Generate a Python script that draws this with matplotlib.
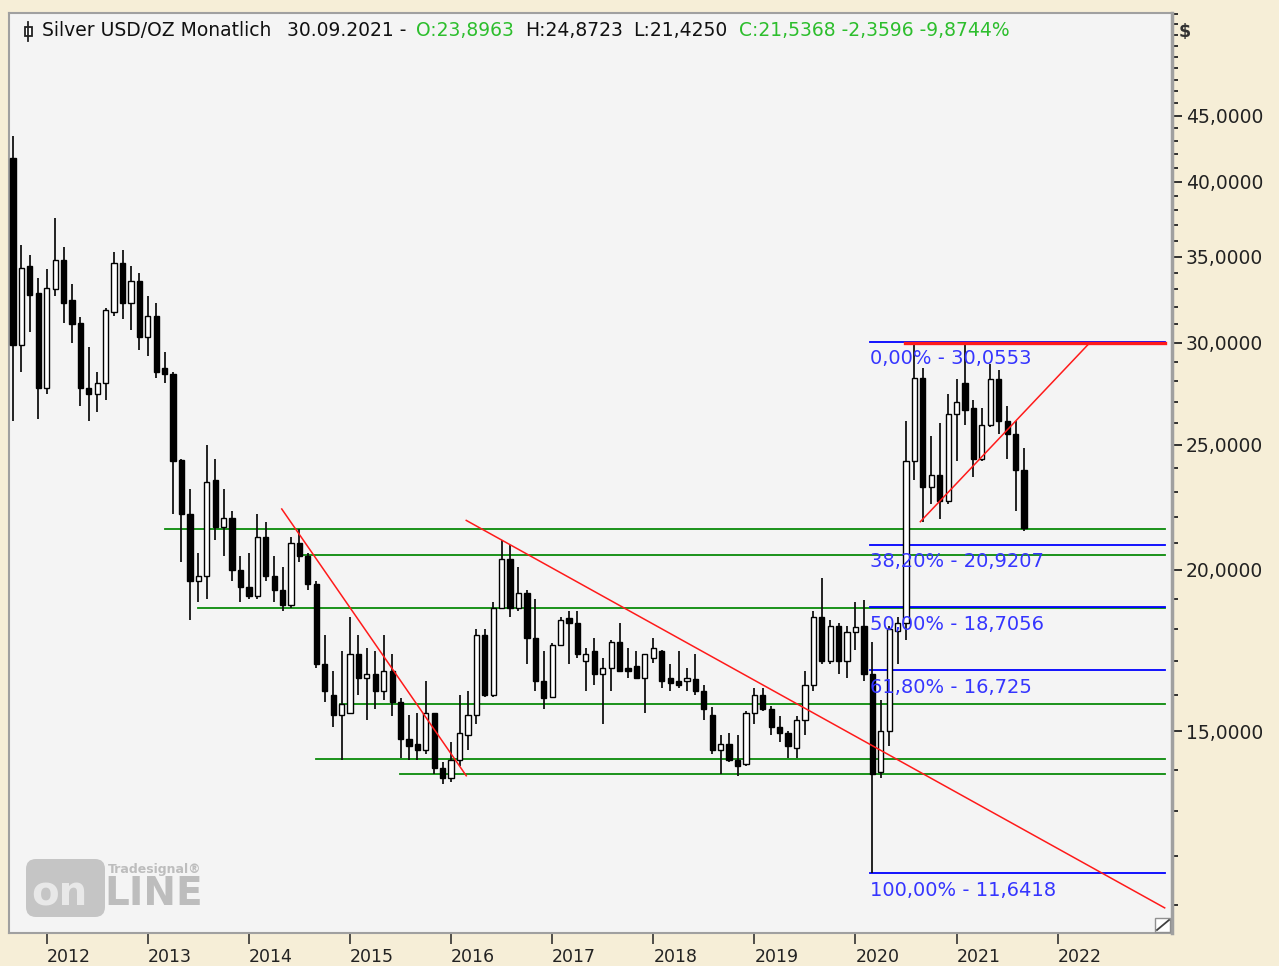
import numpy as np
import pandas as pd
import matplotlib
matplotlib.use('Agg')
import matplotlib.pyplot as plt
from matplotlib.patches import FancyBboxPatch, Rectangle
from matplotlib.ticker import FixedLocator, NullFormatter

W, H = 1279, 966

# monthly silver candles, Sep 2011 .. Sep 2021
months = pd.date_range('2011-09-30', periods=121, freq='ME')
opens = [41.7, 29.9, 34.4, 32.8, 27.7, 33.0, 34.8, 32.4, 31.1, 27.7, 27.4, 27.9,
         31.7, 34.6, 32.2, 33.5, 30.3, 31.5, 28.7, 28.4, 24.35, 22.1, 19.6, 19.8,
         23.5, 21.6, 21.95, 20.0, 19.4, 19.1, 21.2, 19.8, 19.3, 18.8, 21.0, 20.5,
         19.5, 16.9, 16.0, 15.45, 15.5, 17.2, 16.5, 16.6, 16.1, 16.7, 15.8, 14.8,
         14.65, 14.5, 15.5, 14.05, 13.8, 14.25, 14.9, 15.45, 17.8, 16.0, 18.7, 20.4,
         18.7, 19.2, 17.7, 16.4, 15.95, 17.5, 18.35, 18.2, 17.0, 17.3, 16.6, 16.8,
         17.6, 16.8, 16.85, 16.5, 17.1, 17.3, 16.5, 16.4, 16.4, 16.45, 16.1, 15.45,
         14.5, 14.65, 14.25, 14.15, 15.5, 16.0, 15.6, 15.1, 14.95, 14.55, 15.3, 16.3,
         18.4, 17.0, 18.1, 17.0, 17.9, 18.1, 16.6, 13.95, 15.0, 17.95, 18.2, 24.3,
         28.2, 23.2, 23.7, 22.6, 26.4, 27.9, 26.7, 24.4, 25.9, 28.1, 26.1, 25.5,
         23.8963]
highs = [43.4, 35.7, 35.1, 33.7, 34.2, 37.5, 35.6, 33.3, 31.4, 29.8, 28.5, 31.9,
         35.3, 35.4, 34.4, 34.0, 32.6, 32.2, 29.5, 28.5, 24.4, 23.1, 20.6, 25.0,
         24.4, 23.1, 22.2, 20.5, 20.6, 22.1, 21.8, 20.5, 20.1, 21.2, 21.5, 20.6,
         19.6, 17.8, 16.7, 17.3, 18.4, 17.8, 17.4, 17.3, 17.8, 17.2, 15.9, 15.45,
         15.5, 16.4, 15.5, 14.2, 14.7, 16.0, 16.1, 18.0, 18.0, 18.9, 21.1, 20.9,
         20.1, 19.3, 19.0, 17.3, 17.55, 18.4, 18.6, 18.6, 17.4, 17.7, 17.1, 17.65,
         18.2, 17.4, 17.3, 17.2, 17.7, 17.35, 16.9, 17.3, 16.8, 17.2, 16.3, 15.65,
         14.9, 14.95, 14.9, 15.55, 16.2, 16.2, 15.7, 15.4, 15.0, 15.4, 16.7, 18.6,
         19.7, 18.3, 18.2, 18.1, 18.9, 18.95, 17.6, 15.85, 18.1, 18.4, 26.1, 30.05,
         28.7, 25.4, 26.0, 27.4, 28.1, 30.05, 27.1, 26.7, 28.9, 28.6, 26.8, 26.1,
         24.8723]
lows = [26.1, 28.5, 30.6, 26.2, 27.4, 32.6, 31.1, 30.0, 26.8, 26.1, 26.5, 27.1,
        31.5, 31.3, 30.7, 29.6, 29.3, 28.2, 27.9, 22.1, 20.3, 18.3, 18.9, 19.0,
        21.1, 20.5, 19.6, 18.9, 19.0, 19.0, 19.6, 18.9, 18.6, 18.7, 20.3, 19.3,
        16.8, 15.8, 15.1, 14.25, 15.5, 16.0, 15.3, 15.6, 15.85, 15.4, 14.3, 14.25,
        14.25, 14.4, 13.9, 13.65, 13.7, 14.1, 14.5, 15.2, 15.95, 15.95, 18.7, 18.4,
        18.6, 16.9, 16.1, 15.6, 15.9, 17.45, 16.9, 17.1, 16.1, 16.3, 15.2, 16.1,
        16.7, 16.5, 16.5, 15.5, 16.95, 16.2, 16.1, 16.2, 16.1, 16.0, 15.3, 14.4,
        13.9, 14.2, 13.85, 14.1, 15.2, 15.55, 14.9, 14.7, 14.3, 14.3, 14.9, 16.1,
        16.9, 16.9, 16.6, 16.5, 17.35, 16.4, 11.6418, 13.8, 14.6, 16.9, 17.65, 23.5,
        21.8, 22.5, 21.9, 22.5, 24.3, 25.9, 23.6, 24.3, 25.8, 25.5, 24.4, 22.2,
        21.4250]
closes = [29.9, 34.3, 32.7, 27.7, 33.1, 34.8, 32.2, 31.0, 27.7, 27.4, 27.9, 31.8,
          34.6, 32.2, 33.5, 30.3, 31.5, 28.5, 28.4, 24.3, 22.1, 19.6, 19.8, 23.4,
          21.6, 21.95, 20.0, 19.4, 19.1, 21.2, 19.8, 19.3, 18.8, 21.0, 20.5, 19.5,
          16.9, 16.1, 15.45, 15.75, 17.2, 16.5, 16.6, 16.1, 16.7, 15.8, 14.8, 14.6,
          14.5, 15.5, 14.05, 13.8, 14.25, 14.95, 15.45, 17.8, 16.0, 18.7, 20.4, 18.7,
          19.2, 17.7, 16.4, 15.9, 17.5, 18.3, 18.2, 17.2, 17.2, 16.6, 16.8, 17.6,
          16.7, 16.7, 16.5, 17.2, 17.4, 16.4, 16.35, 16.3, 16.5, 16.1, 15.6, 14.5,
          14.65, 14.25, 14.1, 15.5, 16.0, 15.6, 15.1, 14.95, 14.6, 15.3, 16.3, 18.4,
          17.0, 18.1, 17.0, 17.9, 18.05, 16.6, 13.9, 15.0, 18.0, 18.2, 24.3, 28.2,
          23.2, 23.7, 22.6, 26.4, 27.0, 26.6, 24.4, 25.9, 28.1, 26.1, 25.5, 23.9,
          21.5368]

# fibonacci retracement (blue)
fib_levels = [30.0553, 20.9207, 18.7056, 16.725, 11.6418]
fib_labels = ['0,00% - 30,0553', '38,20% - 20,9207', '50,00% - 18,7056',
              '61,80% - 16,725', '100,00% - 11,6418']
fib_start = 101.7

# horizontal support/resistance (green)
green_levels = [21.5, 20.53, 18.7, 15.74, 14.27, 13.9]
green_starts = [18.0, 33.8, 22.0, 38.8, 36.0, 45.9]

# trend lines (red)
trend_x = [(31.9, 53.8), (53.8, 136.7), (107.7, 127.8), (105.9, 136.7)]
trend_y = [(22.3, 13.85), (21.85, 10.94), (21.8, 30.0), (29.98, 29.98)]

years = list(range(2012, 2023))
major_ticks = [15, 20, 25, 30, 35, 40, 45]

line_end = 136.7

fig = plt.figure(figsize=(W / 100, H / 100), dpi=100, facecolor='#F6EED7')
ax = fig.add_axes([8.5 / W, 1 - 933 / H, (1172 - 8.5) / W, (933 - 13) / H])
ax.set_facecolor('#F4F4F4')
ax.set_yscale('log')
ax.set_xlim(-0.534, 137.57)
ax.set_ylim(10.46, 54.06)

x = np.arange(len(opens))
o = np.array(opens); c = np.array(closes)
bottoms = np.minimum(o, c)
tops = np.maximum(o, c)
up = c >= o

ax.vlines(x, lows, highs, color='#111111', lw=1.3, zorder=3)
ax.bar(x, tops - bottoms, bottom=bottoms, width=0.62,
       color=np.where(up, 'white', 'black'), edgecolor='black', lw=1.0, zorder=4)

for lvl, st in zip(green_levels, green_starts):
    ax.plot([st, line_end], [lvl, lvl], color='#0A8A0A', lw=1.3, zorder=2)

for lvl, lab in zip(fib_levels, fib_labels):
    ax.plot([fib_start, line_end], [lvl, lvl], color='#0000FF', lw=1.3, zorder=2)
    ax.annotate(lab, (fib_start, lvl), xytext=(0, -17), textcoords='offset pixels',
                ha='left', va='center', color='#3535FF', fontsize=14, zorder=5)

for i, (tx, ty) in enumerate(zip(trend_x, trend_y)):
    ax.plot(tx, ty, color='#FF1A1A', lw=2.4 if i == 3 else 1.1, zorder=5)

# axes styling
for s in ax.spines.values():
    s.set_color('#A0A0A0')
    s.set_linewidth(1.5)
ax.spines['right'].set_linewidth(2.5)

ax.yaxis.tick_right()
ax.yaxis.set_major_locator(FixedLocator(major_ticks))
ax.set_yticklabels([f'{v:.4f}'.replace('.', ',') for v in major_ticks])
ax.yaxis.set_minor_locator(FixedLocator([v for v in range(11, 55) if v not in major_ticks]))
ax.yaxis.set_minor_formatter(NullFormatter())
ax.tick_params(axis='y', which='major', length=7, width=1.3, color='#222222',
               labelsize=13.5, labelcolor='#222222', pad=3)
ax.tick_params(axis='y', which='minor', length=4, width=1.3, color='#222222')

tick_pos = [12 * (yr - 2011) - 8 for yr in years]
ax.set_xticks(tick_pos)
ax.set_xticklabels([str(yr) for yr in years])
ax.tick_params(axis='x', length=8, width=1.1, color='#222222', labelsize=12.5,
               labelcolor='#222222', pad=3)
for lab in ax.get_xticklabels():
    lab.set_horizontalalignment('left')

# header
def ftext(px, py, s, **kw):
    fig.text(px / W, 1 - py / H, s, va='center', ha='left', **kw)

tfs = 13.5
ftext(42, 31, 'Silver USD/OZ Monatlich', fontsize=tfs, color='#111111')
ftext(287, 31, '30.09.2021 -', fontsize=tfs, color='#111111')
ftext(416, 31, 'O:23,8963', fontsize=tfs, color='#2DBE2D')
ftext(525, 31, 'H:24,8723', fontsize=tfs, color='#111111')
ftext(633, 31, 'L:21,4250', fontsize=tfs, color='#111111')
ftext(739, 31, 'C:21,5368 -2,3596 -9,8744%', fontsize=tfs, color='#2DBE2D')
ftext(1179, 32, '$', fontsize=12.5, color='#333333', fontweight='bold')

# small candle icon in the header
def inch(px, py):
    return px / 100, (H - py) / 100

fig.add_artist(plt.Line2D([inch(28, 22)[0]] * 2, [inch(28, 22)[1], inch(28, 41)[1]],
                          transform=fig.dpi_scale_trans, color='#222222', lw=1.3))
fig.add_artist(Rectangle(inch(24.5, 36), 0.07, 0.085, transform=fig.dpi_scale_trans,
                         facecolor='white', edgecolor='#222222', lw=1.3))

# watermark logo
fig.add_artist(FancyBboxPatch(inch(28, 915), 0.75, 0.54, boxstyle='round,pad=0.02,rounding_size=0.1',
                              transform=fig.dpi_scale_trans, facecolor='#BDBDBD',
                              edgecolor='none', alpha=0.85))
ftext(31, 895, 'on', fontsize=29, color='#E8E8E8', fontweight='bold')
ftext(104, 894, 'LINE', fontsize=28, color='#BDBDBD', fontweight='bold')
ftext(108, 870, 'Tradesignal\u00ae', fontsize=9, color='#BDBDBD', fontweight='bold')

# corner resize icon
fig.add_artist(Rectangle(inch(1155, 932), 0.15, 0.14, transform=fig.dpi_scale_trans,
                         facecolor='white', edgecolor='#909090', lw=1))
fig.add_artist(plt.Line2D([inch(1157, 0)[0], inch(1169, 0)[0]], [inch(0, 930)[1], inch(0, 920)[1]],
                          transform=fig.dpi_scale_trans, color='#404040', lw=1.3))

fig.savefig('out.png', dpi=100, facecolor=fig.get_facecolor())
